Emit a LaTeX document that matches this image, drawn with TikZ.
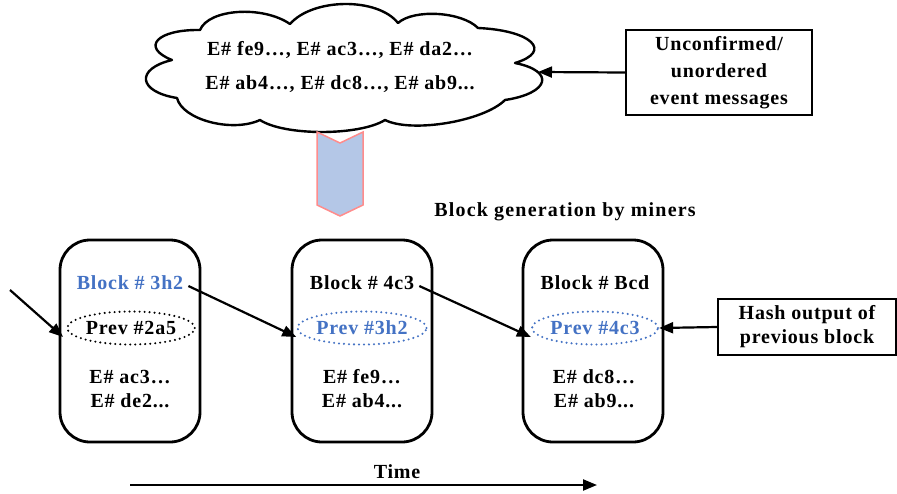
\documentclass[tikz,border=0pt]{standalone}
\usepackage{fontspec}
\setmainfont{Liberation Serif}[LetterSpace=4]
\usetikzlibrary{arrows.meta,calc,shapes.geometric}
\definecolor{chevfill}{HTML}{B4C7E7}
\definecolor{chevline}{HTML}{FF8C8C}
\definecolor{bblue}{HTML}{4472C4}
\newcommand\cbump[4]{%
  \coordinate (#4a) at ($1.3333*(#3)+0.1333*(#1)-0.4667*(#2)$);
  \coordinate (#4b) at ($1.3333*(#3)+0.1333*(#2)-0.4667*(#1)$);}
\tikzset{
  txt/.style={inner sep=0pt, font=\fontsize{20}{24}\selectfont\bfseries, align=center},
  blockbox/.style={draw, line width=2.8pt, rounded corners=30pt, minimum width=140pt, minimum height=202pt, inner sep=0pt},
  prevell/.style={ellipse, draw, line width=2.3pt, dash pattern=on 0pt off 5pt, line cap=round,
    minimum width=112pt, minimum height=33pt, inner sep=0pt, font=\fontsize{20}{24}\selectfont\bfseries},
  labelbox/.style={draw, line width=2.3pt, inner sep=0pt, align=center, font=\fontsize{20}{24}\selectfont\bfseries},
  arr/.style={line width=2.2pt, -{Triangle[length=14pt,width=11pt]}},
  cloudline/.style={draw, fill=white, line width=2.4pt, line join=round},
  chev/.style={fill=chevfill, draw=chevline, line width=1.5pt},
}
\begin{document}
\begin{tikzpicture}[x=1pt,y=-1pt]
\useasboundingbox[fill=white] (0,0) rectangle (897,493);
% cloud
\coordinate (cn1) at (177,98);
\coordinate (cn2) at (172,60);
\coordinate (cn3) at (200,30);
\coordinate (cn4) at (290,24);
\coordinate (cn5) at (398,23);
\coordinate (cn6) at (478,28);
\coordinate (cn7) at (515,63);
\coordinate (cn8) at (505,100);
\coordinate (cn9) at (385,120);
\coordinate (cn10) at (260,120);
\coordinate (cp1) at (146,80);
\coordinate (cp2) at (158,40);
\coordinate (cp3) at (238,12);
\coordinate (cp4) at (345,4);
\coordinate (cp5) at (438,14);
\coordinate (cp6) at (531,42);
\coordinate (cp7) at (542,82);
\coordinate (cp8) at (447,123);
\coordinate (cp9) at (322,132);
\coordinate (cp10) at (210,122);
\cbump{cn1}{cn2}{cp1}{s1}
\cbump{cn2}{cn3}{cp2}{s2}
\cbump{cn3}{cn4}{cp3}{s3}
\cbump{cn4}{cn5}{cp4}{s4}
\cbump{cn5}{cn6}{cp5}{s5}
\cbump{cn6}{cn7}{cp6}{s6}
\cbump{cn7}{cn8}{cp7}{s7}
\cbump{cn8}{cn9}{cp8}{s8}
\cbump{cn9}{cn10}{cp9}{s9}
\cbump{cn10}{cn1}{cp10}{s10}
\path[cloudline] (cn1) .. controls (s1a) and (s1b) .. (cn2)
  .. controls (s2a) and (s2b) .. (cn3)
  .. controls (s3a) and (s3b) .. (cn4)
  .. controls (s4a) and (s4b) .. (cn5)
  .. controls (s5a) and (s5b) .. (cn6)
  .. controls (s6a) and (s6b) .. (cn7)
  .. controls (s7a) and (s7b) .. (cn8)
  .. controls (s8a) and (s8b) .. (cn9)
  .. controls (s9a) and (s9b) .. (cn10)
  .. controls (s10a) and (s10b) .. (cn1) -- cycle;
\node[txt] (cl1) at (340,50) {E\# fe9…, E\# ac3…, E\# da2…};
\node[txt] (cl2) at (340,84) {E\# ab4…, E\# dc8…, E\# ab9...};
\coordinate (cin) at (538,72);
% unconfirmed box
\node[labelbox, minimum width=186pt, minimum height=85pt, font=\fontsize{20}{27}\selectfont\bfseries] (unc) at (719,72.5) {Unconfirmed/\\unordered\\event messages};
\draw[arr] (unc.west) -- (cin);
% chevron
\draw[chev] (317,132) -- (340,143) -- (363,132) -- (363,205) -- (340,216) -- (317,205) -- cycle;
\node[txt, font=\fontsize{20}{24}\selectfont\bfseries\addfontfeature{LetterSpace=6}] (gen) at (565,212) {Block generation by miners};
% blocks
\node[blockbox] (blk1) at (130,341) {};
\node[blockbox] (blk2) at (362,341) {};
\node[blockbox] (blk3) at (593,341) {};
\node[txt, text=bblue] (bt1) at (130,283) {Block \# 3h2};
\node[txt] (bt2) at (362,283) {Block \# 4c3};
\node[txt] (bt3) at (595,283) {Block \# Bcd};
\node[prevell] (pe1) at (131,328) {Prev \#2a5};
\node[prevell, draw=bblue, text=bblue] (pe2) at (362,328) {Prev \#3h2};
\node[prevell, draw=bblue, text=bblue] (pe3) at (595,328) {Prev \#4c3};
\node[txt] (ev1) at (130,389) {E\# ac3…\\E\# de2...};
\node[txt] (ev2) at (362,389) {E\# fe9…\\E\# ab4...};
\node[txt] (ev3) at (594,389) {E\# dc8…\\E\# ab9...};
% hash box
\node[labelbox, minimum width=178pt, minimum height=56pt] (hash) at (807,327) {Hash output of\\previous block};
% arrows
\coordinate (in0) at (10,290);
\draw[arr] (in0) -- ([xshift=-3pt,yshift=-9pt]pe1.west);
\draw[arr] ([xshift=5pt,yshift=-3pt]bt1.east) -- ([yshift=-9pt]pe2.west);
\draw[arr] ([xshift=5pt,yshift=-3pt]bt2.east) -- ([yshift=-9pt]pe3.west);
\draw[arr] (hash.west) -- (pe3.east);
% time
\coordinate (tm0) at (130,485);
\coordinate (tm1) at (597,485);
\draw[arr] (tm0) -- (tm1);
\node[txt] (time) at (397,472) {Time};
\end{tikzpicture}
\end{document}
